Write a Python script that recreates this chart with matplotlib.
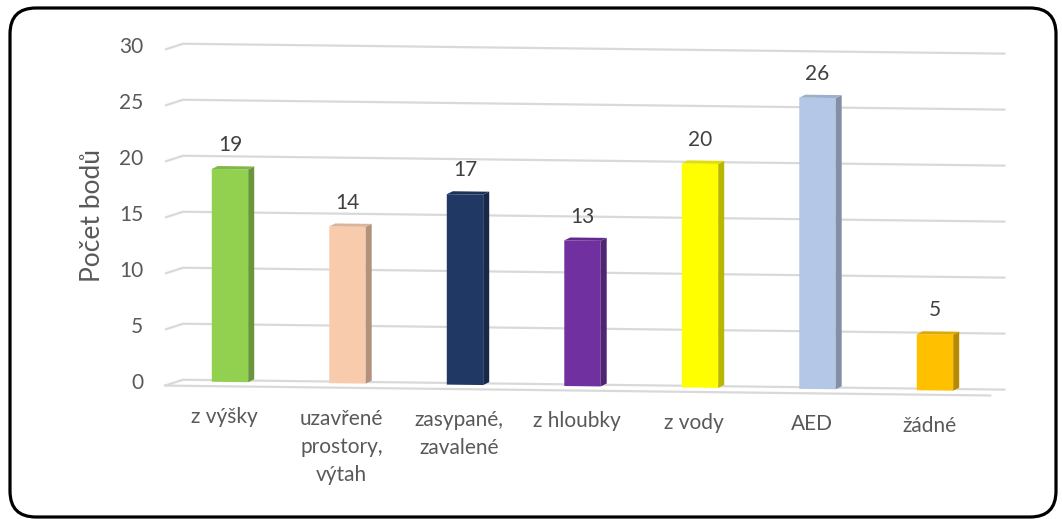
import matplotlib
matplotlib.use('Agg')
import matplotlib.pyplot as plt
import matplotlib.colors as mcolors
import numpy as np
from matplotlib.patches import Polygon, FancyBboxPatch
from matplotlib.transforms import Affine2D, IdentityTransform

categories = ['z výšky', 'uzavřené\nprostory,\nvýtah', 'zasypané,\nzavalené', 'z hloubky',
              'z vody', 'AED', 'žádné']
values = [19, 14, 17, 13, 20, 26, 5]
y_ticks = [0, 5, 10, 15, 20, 25, 30]
front_colors = ['#92D050', '#F8CBAD', '#203864', '#7030A0', '#FFFF00', '#B4C7E7', '#FFC000']


def shade(color, k):
    r, g, b = mcolors.to_rgb(color)
    return (r * k, g * k, b * k)


plt.rcParams['font.family'] = ['Lato', 'DejaVu Sans']

W, H = 1062, 519
fig = plt.figure(figsize=(W / 100, H / 100), dpi=100)
fig.set_facecolor('white')
ax = fig.add_axes([171.25 / W, 137 / H, 822.5 / W, 336 / H])
ax.set_xlim(-0.5, 6.5)
ax.set_ylim(0, 30)
ax.axis('off')

# mírná perspektiva - podlaha se svažuje doprava
skew = Affine2D().translate(-230, 0).skew(0, np.arctan(-0.012)).translate(230, 0)
tr = ax.transData + skew

grid_c = '#D9D9D9'
for v in y_ticks:
    ax.plot([-0.553, -0.4, 6.6], [v - 0.39, v + 0.15, v + 0.15], color=grid_c, lw=1.6,
            transform=tr, clip_on=False, zorder=1, solid_capstyle='butt')
# přední hrana podlahy
ax.plot([-0.553, 6.47], [-0.39, -0.39], color=grid_c, lw=1.6, transform=tr,
        clip_on=False, zorder=1)

x = np.arange(len(values))
w = 0.31
dx, dy = 0.051, 0.27
ax.bar(x, values, width=w, color=front_colors, transform=tr, zorder=3, clip_on=False)
for i, v in enumerate(values):
    xr = i + w / 2
    xl = i - w / 2
    side = Polygon([(xr, 0), (xr + dx, dy), (xr + dx, v + dy), (xr, v)], closed=True,
                   facecolor=shade(front_colors[i], 0.72), edgecolor='none',
                   transform=tr, zorder=3, clip_on=False)
    top = Polygon([(xl, v), (xr, v), (xr + dx, v + dy), (xl + dx, v + dy)], closed=True,
                  facecolor=shade(front_colors[i], 0.88), edgecolor='none',
                  transform=tr, zorder=3, clip_on=False)
    ax.add_patch(side)
    ax.add_patch(top)
    ax.text(i, v + 2.15, str(v), ha='center', va='center', fontsize=15, color='#404040',
            transform=tr, clip_on=False)

for i, cat in enumerate(categories):
    ax.text(i - 0.05, -2.25, cat, ha='center', va='top', fontsize=15, color='#595959',
            linespacing=1.52, transform=tr, clip_on=False)

for v in y_ticks:
    ax.text(-0.74, v - 0.2, str(v), ha='right', va='center', fontsize=15, color='#595959',
            transform=tr, clip_on=False)

fig.text(93 / W, 1 - 215 / H, 'Počet bodů', rotation=90, ha='center', va='center',
         fontsize=19, color='#595959')

border = FancyBboxPatch((10, 2), 1046, 509, boxstyle='round,pad=0,rounding_size=26',
                        transform=IdentityTransform(), facecolor='none', edgecolor='black',
                        linewidth=2.3)
fig.add_artist(border)

plt.savefig('out.png', dpi=100)
plt.close()
